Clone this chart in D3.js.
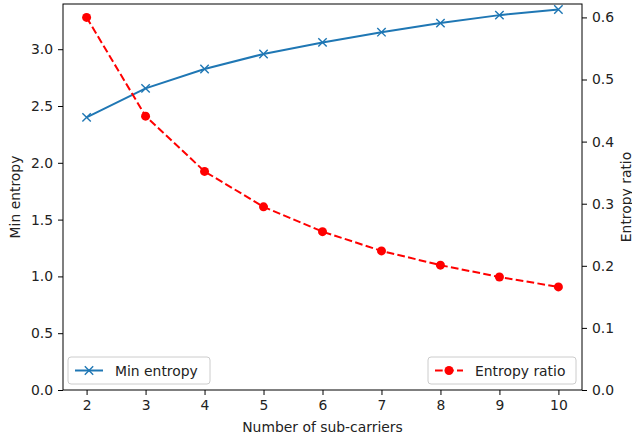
<!DOCTYPE html>
<html>
<head>
<meta charset="utf-8">
<script src="https://cdn.jsdelivr.net/npm/d3@7"></script>
<style>
  body { margin: 0; background: #fff; }
  text { font-family: "DejaVu Sans", sans-serif; fill: #222; }
</style>
</head>
<body>
<svg id="chart" width="632" height="441"></svg>
<script>
var carriers = [2, 3, 4, 5, 6, 7, 8, 9, 10];
var minEntropy = [2.40, 2.655, 2.826, 2.958, 3.06, 3.15, 3.23, 3.30, 3.35];
var entropyRatio = [0.600, 0.441, 0.352, 0.295, 0.255, 0.224, 0.201, 0.182, 0.166];
var leftTicks = [0, 0.5, 1.0, 1.5, 2.0, 2.5, 3.0];
var rightTicks = [0, 0.1, 0.2, 0.3, 0.4, 0.5, 0.6];
var xLabel = "Number of sub-carriers";
var leftLabel = "Min entropy";
var rightLabel = "Entropy ratio";

var plotLeft = 63, plotRight = 582, plotTop = 4, plotBottom = 390;
var fontSize = 13.9;

var svg = d3.select('#chart');

var xScale = d3.scaleLinear().domain([1.6, 10.4]).range([plotLeft, plotRight]);
var yLeft = d3.scaleLinear().domain([0, 3.398]).range([plotBottom, plotTop]);
var yRight = d3.scaleLinear().domain([0, 0.6216]).range([plotBottom, plotTop]);

function styleAxis(g) {
    g.selectAll('path, line').attr('stroke', '#000').attr('stroke-width', 1);
    g.selectAll('text').style('font-size', fontSize + 'px').attr('fill', '#222');
    g.select('.domain').remove();
}

svg.append('g')
    .attr('transform', 'translate(0,' + plotBottom + ')')
    .call(d3.axisBottom(xScale).tickValues(carriers).tickSize(5).tickPadding(5).tickFormat(d3.format('d')))
    .call(styleAxis);

svg.append('g')
    .attr('transform', 'translate(' + plotLeft + ',0)')
    .call(d3.axisLeft(yLeft).tickValues(leftTicks).tickSize(5).tickPadding(5).tickFormat(d3.format('.1f')))
    .call(styleAxis);

svg.append('g')
    .attr('transform', 'translate(' + plotRight + ',0)')
    .call(d3.axisRight(yRight).tickValues(rightTicks).tickSize(5).tickPadding(5).tickFormat(d3.format('.1f')))
    .call(styleAxis);

// frame
svg.append('rect')
    .attr('x', plotLeft).attr('y', plotTop)
    .attr('width', plotRight - plotLeft).attr('height', plotBottom - plotTop)
    .attr('fill', 'none').attr('stroke', '#000').attr('stroke-width', 1);

// min entropy line
var lineLeft = d3.line()
    .x(function (d, i) { return xScale(carriers[i]); })
    .y(function (d) { return yLeft(d); });

svg.append('path')
    .datum(minEntropy)
    .attr('d', lineLeft)
    .attr('fill', 'none')
    .attr('stroke', '#1f77b4')
    .attr('stroke-width', 2);

function crossPath(cx, cy, s) {
    return 'M' + (cx - s) + ',' + (cy - s) + 'L' + (cx + s) + ',' + (cy + s) +
        'M' + (cx - s) + ',' + (cy + s) + 'L' + (cx + s) + ',' + (cy - s);
}

svg.append('g').selectAll('path').data(minEntropy).enter().append('path')
    .attr('d', function (d, i) { return crossPath(xScale(carriers[i]), yLeft(d), 4.2); })
    .attr('stroke', '#1f77b4')
    .attr('stroke-width', 1.4)
    .attr('fill', 'none');

// entropy ratio line
var lineRight = d3.line()
    .x(function (d, i) { return xScale(carriers[i]); })
    .y(function (d) { return yRight(d); });

svg.append('path')
    .datum(entropyRatio)
    .attr('d', lineRight)
    .attr('fill', 'none')
    .attr('stroke', '#ff0000')
    .attr('stroke-width', 2)
    .attr('stroke-dasharray', '7.7,3.3');

svg.append('g').selectAll('circle').data(entropyRatio).enter().append('circle')
    .attr('cx', function (d, i) { return xScale(carriers[i]); })
    .attr('cy', function (d) { return yRight(d); })
    .attr('r', 4.5)
    .attr('fill', '#ff0000');

// axis labels
svg.append('text')
    .attr('x', (plotLeft + plotRight) / 2)
    .attr('y', 432)
    .attr('text-anchor', 'middle')
    .style('font-size', fontSize + 'px')
    .text(xLabel);

svg.append('text')
    .attr('transform', 'translate(20,' + ((plotTop + plotBottom) / 2) + ') rotate(-90)')
    .attr('text-anchor', 'middle')
    .style('font-size', fontSize + 'px')
    .text(leftLabel);

svg.append('text')
    .attr('transform', 'translate(631,' + ((plotTop + plotBottom) / 2) + ') rotate(-90)')
    .attr('text-anchor', 'middle')
    .style('font-size', fontSize + 'px')
    .text(rightLabel);

// legends
function legend(x, w, label, color, dashed, marker) {
    var g = svg.append('g').attr('transform', 'translate(' + x + ',357)');
    g.append('rect')
        .attr('width', w).attr('height', 27)
        .attr('rx', 3)
        .attr('fill', 'rgba(255,255,255,0.8)')
        .attr('stroke', '#cccccc');
    g.append('line')
        .attr('x1', 7).attr('x2', 35).attr('y1', 13.5).attr('y2', 13.5)
        .attr('stroke', color).attr('stroke-width', 2)
        .attr('stroke-dasharray', dashed ? '7.7,3.3' : null);
    if (marker === 'x') {
        g.append('path').attr('d', crossPath(21, 13.5, 4.2))
            .attr('stroke', color).attr('stroke-width', 1.4);
    } else {
        g.append('circle').attr('cx', 21).attr('cy', 13.5).attr('r', 4.5).attr('fill', color);
    }
    g.append('text')
        .attr('x', 47).attr('y', 18.5)
        .style('font-size', fontSize + 'px')
        .text(label);
}

legend(68, 142, leftLabel, '#1f77b4', false, 'x');
legend(428, 148, rightLabel, '#ff0000', true, 'o');
</script>
</body>
</html>
